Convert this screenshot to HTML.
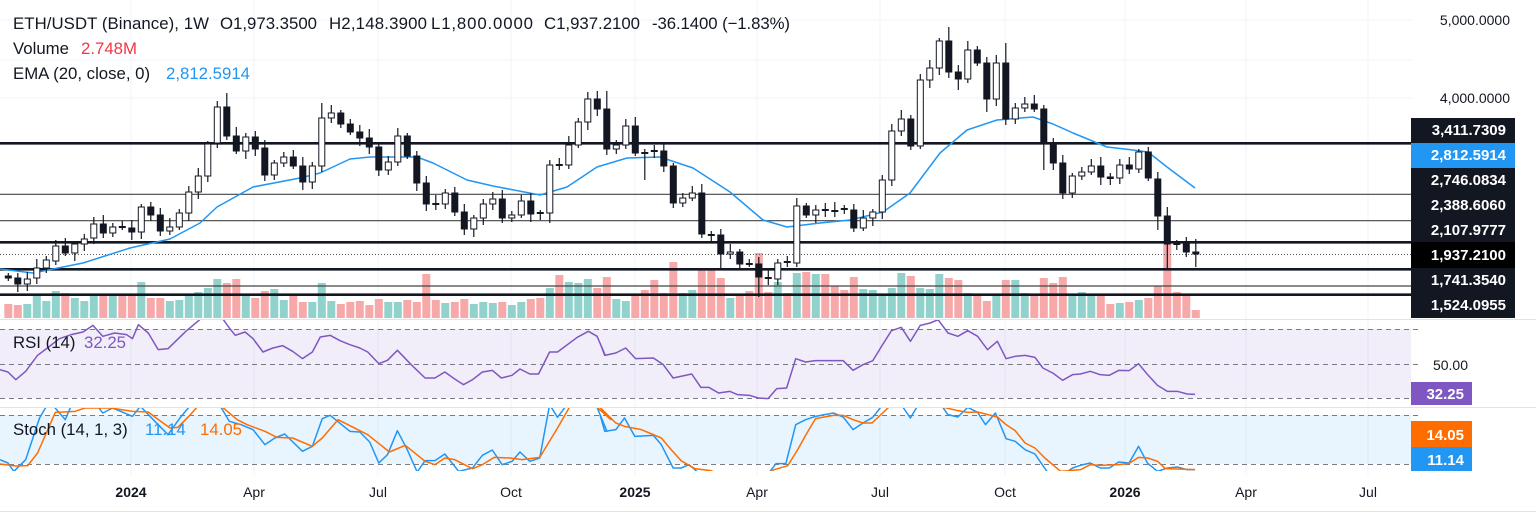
<!DOCTYPE html>
<html><head><meta charset="utf-8"><style>
html,body{margin:0;padding:0;background:#fff;}
body{width:1536px;height:513px;overflow:hidden;position:relative;font-family:"Liberation Sans",sans-serif;}
svg{position:absolute;left:0;top:0;}
</style></head><body>
<svg id="s" width="1536" height="513" xmlns="http://www.w3.org/2000/svg" font-family="Liberation Sans, sans-serif">
<defs>
<clipPath id="cm"><rect x="0" y="0" width="1411" height="318"/></clipPath>
<clipPath id="cr"><rect x="0" y="320" width="1411" height="87"/></clipPath>
<clipPath id="cs"><rect x="0" y="408" width="1411" height="63"/></clipPath>
</defs>
<g id="grid" stroke="#f0f3fa" stroke-width="1"></g>
<rect x="0" y="329" width="1411" height="69" fill="#7e57c2" fill-opacity="0.1"/>
<rect x="0" y="415" width="1411" height="49" fill="#2196f3" fill-opacity="0.1"/>
<g stroke="#787b86" stroke-width="1" stroke-dasharray="5,4">
<line x1="0" y1="329.5" x2="1420" y2="329.5"/><line x1="0" y1="364.5" x2="1420" y2="364.5"/><line x1="0" y1="398.5" x2="1420" y2="398.5"/>
<line x1="0" y1="415.5" x2="1420" y2="415.5"/><line x1="0" y1="464.5" x2="1420" y2="464.5"/>
</g>
<line x1="0" y1="319.5" x2="1536" y2="319.5" stroke="#e0e3eb"/>
<line x1="0" y1="407.5" x2="1536" y2="407.5" stroke="#e0e3eb"/>
<line x1="0" y1="511.5" x2="1536" y2="511.5" stroke="#e0e3eb"/>
<g id="vol" clip-path="url(#cm)"></g>
<g id="hl"></g>
<g id="ema" clip-path="url(#cm)"></g>
<g id="cand" clip-path="url(#cm)"></g>
<g id="rsi" clip-path="url(#cr)"></g>
<g id="sto" clip-path="url(#cs)"></g>
<g font-size="14" fill="#131722" text-anchor="end">
<text x="1510" y="25">5,000.0000</text>
<text x="1510" y="103">4,000.0000</text>
<text x="1468" y="370">50.00</text>
</g>
<rect x="1411" y="118" width="104" height="200" fill="#131722"/>
<rect x="1411" y="143" width="104" height="25" fill="#2196f3"/>
<rect x="1411" y="242" width="104" height="26" fill="#000"/>
<g font-size="15" font-weight="bold" fill="#fff" text-anchor="end">
<text x="1506" y="135">3,411.7309</text>
<text x="1506" y="160">2,812.5914</text>
<text x="1506" y="185">2,746.0834</text>
<text x="1506" y="210">2,388.6060</text>
<text x="1506" y="235">2,107.9777</text>
<text x="1506" y="260">1,937.2100</text>
<text x="1506" y="285">1,741.3540</text>
<text x="1506" y="310">1,524.0955</text>
</g>
<rect x="1411" y="382" width="61" height="23" fill="#7e57c2"/>
<text x="1464" y="399" font-size="15" font-weight="bold" fill="#fff" text-anchor="end">32.25</text>
<rect x="1411" y="421" width="61" height="26" fill="#ff6d00"/>
<text x="1464" y="440" font-size="15" font-weight="bold" fill="#fff" text-anchor="end">14.05</text>
<rect x="1411" y="447" width="61" height="24" fill="#2196f3"/>
<text x="1464" y="465" font-size="15" font-weight="bold" fill="#fff" text-anchor="end">11.14</text>
<g font-size="14" fill="#131722" text-anchor="middle">
<text x="131" y="497" font-weight="bold">2024</text>
<text x="254" y="497">Apr</text>
<text x="378" y="497">Jul</text>
<text x="511" y="497">Oct</text>
<text x="635" y="497" font-weight="bold">2025</text>
<text x="757" y="497">Apr</text>
<text x="880" y="497">Jul</text>
<text x="1005" y="497">Oct</text>
<text x="1125" y="497" font-weight="bold">2026</text>
<text x="1246" y="497">Apr</text>
<text x="1368" y="497">Jul</text>
</g>
<g font-size="16.8" fill="#131722">
<text y="29"><tspan x="13" textLength="196">ETH/USDT (Binance), 1W</tspan><tspan x="220" textLength="97">O1,973.3500</tspan><tspan x="329" textLength="98">H2,148.3900</tspan><tspan x="431" textLength="102">L1,800.0000</tspan><tspan x="544" textLength="96">C1,937.2100</tspan><tspan x="652" textLength="138">-36.1400 (−1.83%)</tspan></text>
<text y="54"><tspan x="13">Volume</tspan><tspan x="81" fill="#f23645">2.748M</tspan></text>
<text y="79"><tspan x="13">EMA (20, close, 0)</tspan><tspan x="166" fill="#2196f3">2,812.5914</tspan></text>
<text y="348"><tspan x="13">RSI (14)</tspan><tspan x="84" fill="#7e57c2">32.25</tspan></text>
<text y="435"><tspan x="13">Stoch (14, 1, 3)</tspan><tspan x="145" fill="#2196f3">11.14</tspan><tspan x="200" fill="#ff6d00">14.05</tspan></text>
</g>
</svg>
<script>
var NS="http://www.w3.org/2000/svg";
function el(p,t,a){var e=document.createElementNS(NS,t);for(var k in a)e.setAttribute(k,a[k]);document.getElementById(p).appendChild(e);return e;}
[131,254,378,511,635,757,880,1005,1125,1246,1368].forEach(function(x){el("grid","line",{x1:x,y1:0,x2:x,y2:475});});
[20,98,60].forEach(function(y){el("grid","line",{x1:0,y1:y,x2:1411,y2:y});});
[[143.3,2.6],[194.3,1.2],[220.7,1.2],[242.3,2.6],[269.3,2.6],[286,1.2],[294.7,2.6]].forEach(function(l){
 el("hl","line",{x1:0,y1:l[0],x2:1420,y2:l[0],stroke:l[1]>2?"#131722":"#444",'stroke-width':l[1]});});
el("hl","line",{x1:0,y1:254.5,x2:1411,y2:254.5,stroke:"#555","stroke-width":1,"stroke-dasharray":"1,2"});
var C=[["b",276,278],["b",278,284],["w",279,284],["w",268,278],["w",260,268],["w",246,261],["b",246,253],["w",244,253],["w",239,244],["w",224,238],
["b",224,233],["w",227,233],["d",227,227],["b",228,232],["w",207,232],["b",207,215],["b",215,231],["w",227,231],["w",213,227],["w",192,213],
["w",176,192],["w",144,176],["w",107,143],["b",107,136],["b",136,151],["w",137,151],["b",137,149],["b",148,175],["w",163,175],["w",157,163],
["b",157,166],["b",166,182],["w",166,182],["w",118,166],["w",113,118],["b",113,124],["b",124,132],["b",132,138],["b",138,147],["b",147,170],
["w",162,170],["w",136,162],["b",136,156],["b",156,183],["b",183,204],["d",204,204],["w",193,204],["b",193,212],["b",212,229],["w",218,229],
["w",204,218],["w",199,204],["b",199,218],["w",215,218],["w",201,215],["b",201,214],["d",213,213],["w",165,213],["d",165,165],["w",145,165],
["w",122,145],["w",99,122],["b",99,109],["b",109,149],["w",145,149],["w",126,145],["b",126,153],["d",153,153],["d",151,151],["b",151,166],
["b",166,203],["w",198,203],["w",193,198],["b",193,234],["d",235,235],["b",235,254],["w",252,254],["b",252,264],["d",264,264],["b",264,277],
["d",278,278],["w",263,279],["d",262,262],["w",206,263],["b",206,215],["w",210,215],["d",210,210],["d",211,211],["d",209,209],["b",210,228],
["w",218,228],["w",212,218],["w",180,212],["w",131,180],["w",119,131],["b",119,146],["w",80,146],["w",68,80],["w",41,68],["b",41,72],
["b",72,79],["w",50,79],["b",50,63],["b",63,99],["w",63,99],["b",63,119],["w",108,119],["w",104,108],["b",104,109],["b",109,144],
["b",144,163],["b",163,193],["w",176,193],["w",172,176],["w",166,172],["b",166,177],["b",177,178],["w",165,178],["b",165,169],["w",152,169],
["b",152,178],["b",179,216],["b",216,244],["d",244,244],["b",243,252],["b",252,254]];
var V=[304,305,304,295,301,291,293,298,301,295,295,295,295,295,282,298,298,301,300,295,292,288,279,283,279,295,298,291,289,300,295,302,302,283,301,304,302,301,305,299,302,302,300,302,
274,300,303,302,299,304,302,303,302,305,302,299,298,288,275,282,283,279,288,277,299,301,295,290,280,293,262,293,290,269,269,278,298,295,291,253,292,282,293,273,272,274,
274,286,290,277,289,290,295,288,273,276,288,289,274,278,280,293,295,301,294,280,280,293,295,278,283,277,295,292,294,295,304,303,302,300,298,286,244,292,295,310];
var WK={22:[101,0],23:[93,0],33:[103,0],48:[0,235],57:[0,223],61:[92,0],63:[91,0],67:[0,180],73:[0,238],75:[0,268],79:[0,297],99:[27,0],100:[0,90],103:[0,112],105:[43,0],109:[0,170],112:[0,198],121:[0,230],122:[0,268],125:[239,267]};
function X(i){return 8.3+i*9.5;}
for(var i=0;i<C.length;i++){
 var c=C[i],x=X(i),t=c[1],b=c[2];
 var up=(c[0]=="w");
 var vy=V[i];
 el("vol","rect",{x:x-4,y:vy,width:8,height:318-vy,fill:up?"#92d2cc":"#f7a9a9"});
 var r=((i*37)%7)+3;
 var hi=t-r,lo=b+((i*53)%6)+3;
 if(WK[i]){if(WK[i][0])hi=WK[i][0];if(WK[i][1])lo=WK[i][1];}
 el("cand","line",{x1:x,y1:hi,x2:x,y2:lo,stroke:"#131722","stroke-width":1.2});
 if(c[0]=="d"){el("cand","rect",{x:x-3.5,y:t-1,width:7,height:2,fill:"#131722"});}
 else el("cand","rect",{x:x-3,y:t,width:6,height:Math.max(b-t,1.5),fill:up?"#fff":"#131722",stroke:"#131722","stroke-width":1});
}
function poly(g,pts,col,w){el(g,"polyline",{points:pts.map(function(p){return p[0]+","+p[1]}).join(" "),fill:"none",stroke:col,"stroke-width":w,"stroke-linejoin":"round"});}
poly("ema",[[0,269],[33,273],[83,263],[130,248],[170,239],[200,223],[217,207],[253,187],[300,178],[320,173],[350,159],[370,157],[417,157],[433,163],[467,180],[493,186],[540,195],[567,187],[597,167],[627,158],[660,157],[693,168],[730,192],[763,220],[787,227],[820,223],[850,220],[883,212],[910,193],[940,153],[967,130],[997,120],[1033,117],[1053,124],[1073,133],[1107,147],[1133,150],[1148,152],[1167,167],[1195,188]],"#2196f3",1.5);
var SX=620/1568;
function Z(ox,arr){return arr.map(function(p){return [ox+p[0]*SX,318+p[1]/3];});}
var r1=Z(0,[[0,155],[20,162],[40,185],[65,160],[95,112],[120,90],[150,62],[180,50],[210,42],[235,22],[260,55],[290,45],[320,50],[335,62],[350,20],[375,45],[400,95],[425,92],[470,40],[505,5],[535,-20],[565,5],[580,30],[595,52],[620,42],[640,62],[665,102],[690,90],[715,83],[740,100],[765,122],[790,102],[810,57],[835,52],[860,68],[885,80],[910,90],[930,102],[958,137],[980,127],[1005,97],[1040,140],[1075,180],[1100,180],[1125,162],[1150,183],[1172,200],[1195,185],[1220,162],[1245,157],[1268,180],[1295,172],[1315,153],[1340,168],[1362,168],[1390,102],[1410,102],[1460,58],[1488,40],[1510,55],[1530,110]]);
var r2=Z(600,[[0,75],[12,112],[40,105],[65,90],[90,122],[135,120],[160,140],[185,180],[232,168],[255,208],[275,208],[300,225],[328,220],[348,230],[378,232],[400,240],[425,242],[447,212],[472,210],[495,122],[520,132],[545,128],[615,128],[640,157],[665,140],[690,128],[712,85],[737,38],[762,28],[785,70],[810,22],[835,15],[855,5],[880,45],[905,55],[930,38],[955,55],[980,95],[1005,70],[1027,122],[1050,115],[1075,112],[1100,118],[1120,150],[1145,165],[1170,187],[1195,170],[1215,168],[1240,160],[1265,170],[1288,172],[1312,157],[1338,158],[1362,137],[1385,170],[1410,202],[1435,220],[1460,220],[1485,228],[1505,229]]);
poly("rsi",r1.concat(r2),"#7e57c2",1.5);
var k1=Z(0,[[0,425],[20,435],[35,460],[65,425],[100,300],[125,250],[165,305],[185,250],[230,240],[260,285],[285,270],[335,295],[355,265],[400,320],[425,350],[455,300],[490,250],[530,240],[560,270],[580,310],[610,320],[640,335],[670,380],[695,360],[720,348],[765,400],[790,385],[815,302],[835,292],[885,340],[910,342],[935,372],[958,435],[980,410],[1005,338],[1030,395],[1055,462],[1075,428],[1100,428],[1125,408],[1160,460],[1195,450],[1220,412],[1245,396],[1270,440],[1295,430],[1315,402],[1340,430],[1365,420],[1390,260],[1410,298],[1440,250],[1480,240],[1510,268],[1535,340]]);
var k2=Z(600,[[0,290],[12,340],[40,335],[62,300],[88,355],[135,352],[155,380],[185,450],[205,450],[225,440],[250,465],[300,490],[400,490],[430,460],[445,437],[470,437],[495,320],[520,305],[545,295],[590,285],[615,297],[640,335],[665,315],[690,298],[715,260],[750,240],[785,300],[810,250],[850,240],[880,290],[905,297],[930,268],[955,283],[975,320],[1000,285],[1027,362],[1050,370],[1075,395],[1100,408],[1130,460],[1165,475],[1195,450],[1215,442],[1240,435],[1265,450],[1288,450],[1312,432],[1338,435],[1362,385],[1385,436],[1410,460],[1435,450],[1460,447],[1485,455],[1505,455]]);
var d1=Z(0,[[0,438],[40,444],[70,443],[95,405],[140,283],[190,280],[215,270],[280,270],[335,280],[375,282],[395,300],[430,330],[450,328],[480,292],[500,265],[530,250],[565,270],[600,305],[625,320],[670,340],[700,358],[740,360],[790,385],[815,360],[855,305],[880,320],[930,350],[985,402],[1025,382],[1075,430],[1100,440],[1125,420],[1150,425],[1195,452],[1220,440],[1250,418],[1290,420],[1320,425],[1365,418],[1410,330],[1440,268],[1475,245],[1510,268],[1545,305]]);
var d2=Z(600,[[0,268],[40,315],[62,325],[105,335],[155,360],[180,395],[205,428],[240,452],[280,458],[330,480],[400,480],[440,455],[475,443],[500,395],[520,352],[545,302],[590,292],[615,292],[640,305],[665,315],[688,315],[730,268],[800,262],[870,268],[905,278],[930,283],[955,282],[1005,297],[1027,320],[1050,338],[1075,375],[1100,390],[1125,420],[1165,460],[1215,455],[1240,440],[1265,442],[1312,440],[1338,436],[1362,418],[1385,420],[1410,430],[1430,452],[1505,455]]);
poly("sto",k1.concat(k2),"#2196f3",1.5);
poly("sto",d1.concat(d2),"#ff6d00",1.5);
</script>
</body></html>
